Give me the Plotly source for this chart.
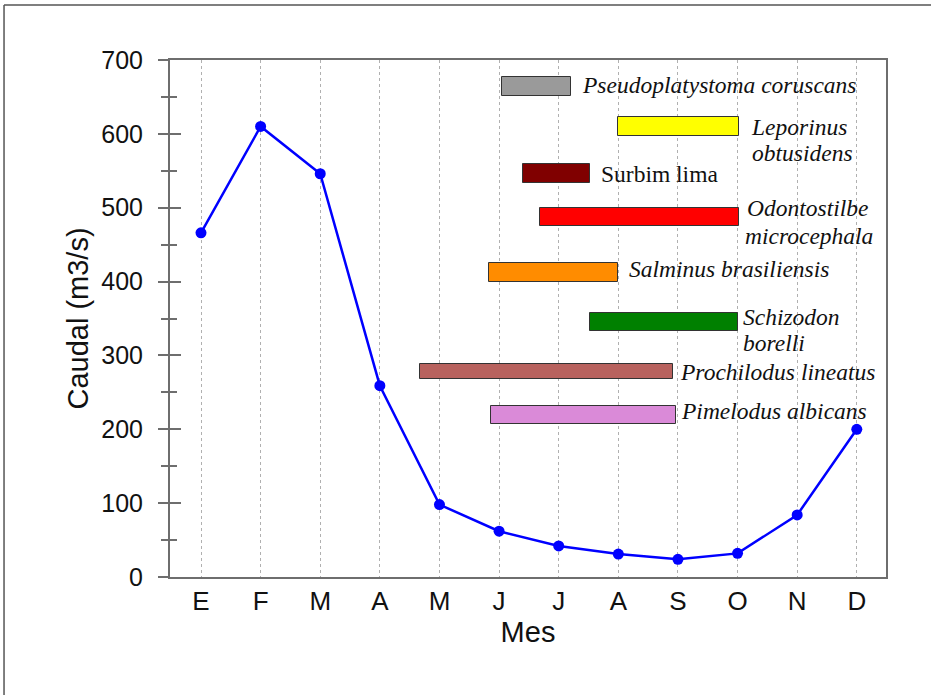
import plotly.graph_objects as go

# ---- data ----
months = ["E", "F", "M", "A", "M", "J", "J", "A", "S", "O", "N", "D"]
month_idx = list(range(1, 13))
caudal = [466, 610, 546, 259, 98, 62, 42, 31, 24, 32, 84, 200]

species = ["Pseudoplatystoma coruscans", "Leporinus obtusidens", "Surbim lima",
           "Odontostilbe microcephala", "Salminus brasiliensis", "Schizodon borelli",
           "Prochilodus lineatus", "Pimelodus albicans"]
bar_start = [6.05, 8.0, 6.40, 6.68, 5.83, 7.52, 4.67, 5.87]
bar_end = [7.20, 10.03, 7.53, 10.03, 8.0, 10.0, 8.92, 8.96]
bar_center = [664, 610, 546.5, 487.5, 412.5, 345.5, 278, 219]
bar_height = [26, 26, 25, 25, 25, 25, 20, 24]
bar_colors = ["#9a9a9a", "#ffff00", "#800000", "#ff0000", "#ff8c00", "#008000", "#b8625e", "#da8ad8"]

# label lines
label_text = ["Pseudoplatystoma coruscans", "Leporinus", "obtusidens", "Surbim lima",
              "Odontostilbe", "microcephala", "Salminus brasiliensis", "Schizodon",
              "borelli", "Prochilodus lineatus", "Pimelodus albicans"]
label_x = [7.36, 10.19, 10.21, 7.68, 10.12, 10.09, 8.15, 10.05, 10.05, 9.0, 9.02]
label_y = [666, 609, 574, 546, 500, 462, 417, 352, 317, 278, 225]
label_italic = [True, True, True, False, True, True, True, True, True, True, True]

y_ticks = [0, 100, 200, 300, 400, 500, 600, 700]

fig = go.Figure()

fig.add_trace(go.Bar(
    y=bar_center, x=[e - s for s, e in zip(bar_start, bar_end)], base=bar_start,
    width=bar_height, orientation="h",
    marker=dict(color=bar_colors, line=dict(color="#333333", width=1)),
    showlegend=False, hoverinfo="skip",
))

fig.add_trace(go.Scatter(
    x=month_idx, y=caudal, mode="lines+markers",
    line=dict(color="#0000ff", width=2.5),
    marker=dict(color="#0000ff", size=11, symbol="circle"),
    showlegend=False,
))

# dummy trace on overlay axis for inside ticks
fig.add_trace(go.Scatter(x=[None], y=[None], yaxis="y2", showlegend=False))

for t, x, y, it in zip(label_text, label_x, label_y, label_italic):
    txt = f"<i>{t}</i>" if it else t
    fig.add_annotation(x=x, y=y, text=txt, showarrow=False, xanchor="left", yanchor="middle",
                       font=dict(family="Liberation Serif", size=23.5, color="#111111"))

axis_col = "#6e6e6e"
fig.update_layout(
    width=931, height=695,
    margin=dict(l=170, r=45, t=60, b=118),
    paper_bgcolor="white", plot_bgcolor="white",
    font=dict(family="Liberation Sans", color="#111111"),
    bargap=0,
    xaxis=dict(
        range=[0.48, 12.49], tickmode="array", tickvals=month_idx, ticktext=months,
        tickfont=dict(size=26), showgrid=True, gridcolor="#b0b0b0", griddash="dot", gridwidth=1,
        showline=True, linecolor=axis_col, linewidth=2, mirror=True,
        ticks="", ticklabelstandoff=0,
        title=dict(text="Mes", font=dict(size=29), standoff=4),
        zeroline=False,
    ),
    yaxis=dict(
        range=[0, 700], tickvals=y_ticks, tickfont=dict(size=25), showgrid=False,
        showline=True, linecolor=axis_col, linewidth=2, mirror=True,
        ticks="outside", ticklen=10, tickcolor=axis_col, tickwidth=1.5,
        minor=dict(dtick=50, ticks="outside", ticklen=7, tickcolor=axis_col, tickwidth=1.5),
        ticklabelstandoff=10,
        title=dict(text="Caudal (m3/s)", font=dict(size=29), standoff=4),
        zeroline=False,
    ),
    yaxis2=dict(
        range=[0, 700], overlaying="y", side="left", tickvals=y_ticks, showticklabels=False,
        showgrid=False, ticks="inside", ticklen=11, tickcolor=axis_col, tickwidth=1.5,
        minor=dict(dtick=50, ticks="inside", ticklen=7, tickcolor=axis_col, tickwidth=1.5),
        zeroline=False, showline=False,
    ),
    shapes=[
        dict(type="line", xref="paper", yref="paper", x0=-0.2318, x1=1.2, y0=1.1064, y1=1.1064,
             line=dict(color="#555555", width=1.5)),
        dict(type="line", xref="paper", yref="paper", x0=-0.2318, x1=-0.2318, y0=1.1064, y1=-0.25,
             line=dict(color="#555555", width=1.5)),
    ],
)

fig.write_html("out.html", config={"displayModeBar": False},
               post_script="document.body.style.margin='0';document.body.style.overflow='hidden';")
